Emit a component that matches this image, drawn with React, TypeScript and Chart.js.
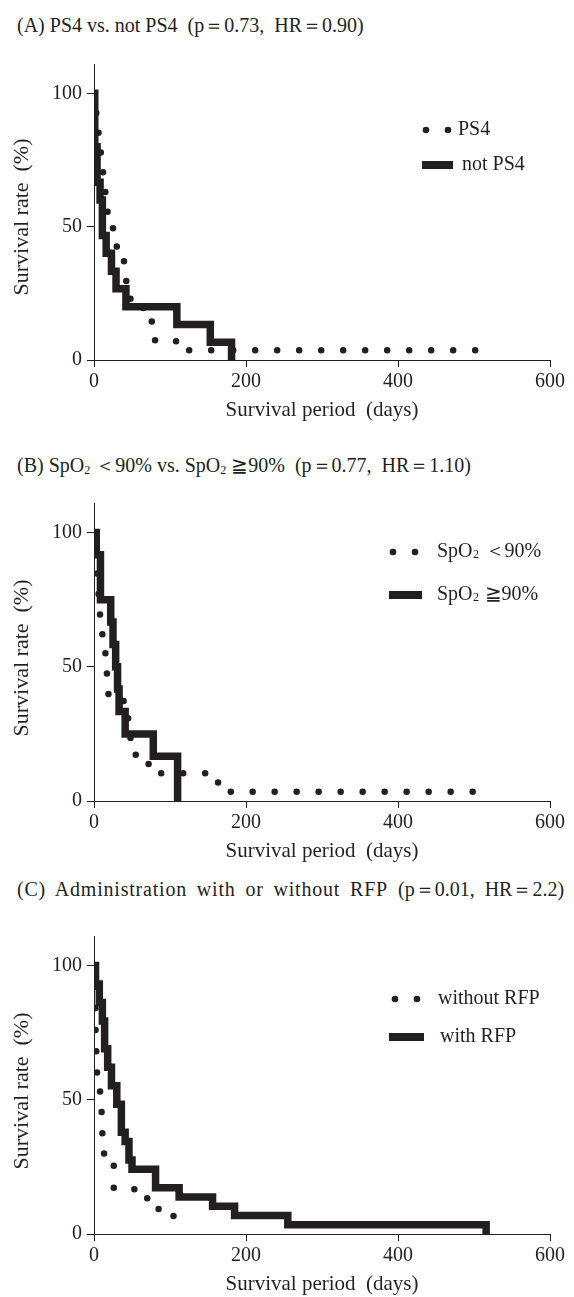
import React, { useEffect, useRef } from "react";
import { Chart, registerables } from "chart.js";

Chart.register(...registerables);

const INK = "#231f20";
const SERIF = '"Liberation Serif", "Times New Roman", serif';

// Tick labels
const xTickValues = [0, 200, 400, 600];
const yTickValues = [0, 50, 100];

// Axis titles
const xAxisTitle = "Survival period  (days)";
const yAxisTitle = "Survival rate  (%)";

// (A) PS4 vs. not PS4
const aPs4Days = [0, 1, 4, 7, 10, 13, 16, 25, 30, 35, 42, 48, 65, 76, 108, 513];
const aPs4Surv = [100, 92.6, 85.2, 77.8, 70.4, 63.0, 55.6, 48.1, 40.7, 37.0, 29.6, 22.2, 18.5, 7.4, 3.7, 0];
const aNotDays = [0, 1, 4, 8, 11, 16, 23, 29, 42, 109, 153, 181];
const aNotSurv = [100, 80, 66.7, 60, 46.7, 40, 33.3, 26.7, 20, 13.3, 6.7, 0];

// (B) SpO2 <90% vs. SpO2 >=90%
const bLowDays = [0, 1, 2, 4, 6, 8, 10, 11, 13, 15, 16, 17, 18, 19, 39, 45, 48, 68, 85, 163, 180, 521];
const bLowSurv = [100, 93.1, 86.2, 79.3, 75.9, 69.0, 65.5, 62.1, 55.2, 51.7, 48.3, 44.8, 41.4, 37.9, 31.0, 27.6, 17.2, 13.8, 10.3, 6.9, 3.4, 3.4];
const bHighDays = [0, 3, 8.5, 22, 25, 28.5, 31, 33, 41, 78, 110];
const bHighSurv = [100, 91.7, 75, 66.7, 58.3, 50, 41.7, 33.3, 25, 16.7, 0];

// (C) with / without RFP
const cWithoutDays = [0, 1, 2, 3, 4, 6, 8, 10, 11, 13, 26, 70, 85, 110];
const cWithoutSurv = [100, 86.7, 73.3, 66.7, 60, 53.3, 46.7, 43.3, 36.7, 30, 16.7, 13.3, 6.7, 6.7];
const cWithDays = [0, 2, 7, 11, 14, 18, 23, 30, 36, 41, 46, 50, 81, 112, 156, 185, 255, 516];
const cWithSurv = [100, 93.1, 86.2, 79.3, 69.0, 62.1, 55.2, 48.3, 37.9, 34.5, 27.6, 24.1, 17.2, 13.8, 10.3, 6.9, 3.4, 0];

const Y_MAX = 111;
const X_TITLE_BOX = 63;

const toPoints = (days: number[], surv: number[]) => days.map((d, i) => ({ x: d, y: surv[i] }));

const dottedSet = (label: string, days: number[], surv: number[]) => ({
  label,
  data: toPoints(days, surv),
  stepped: true,
  borderColor: INK,
  backgroundColor: INK,
  borderWidth: 6.5,
  borderCapStyle: "round" as const,
  borderDash: [0, 22],
  pointRadius: 0,
  fill: false,
});

const solidSet = (label: string, days: number[], surv: number[]) => ({
  label,
  data: toPoints(days, surv),
  stepped: true,
  borderColor: INK,
  backgroundColor: INK,
  borderWidth: 7.5,
  borderCapStyle: "butt" as const,
  borderJoinStyle: "miter" as const,
  pointRadius: 0,
  fill: false,
});

const drawRichText = (ctx: CanvasRenderingContext2D, text: string, x: number, y: number) => {
  const parts = text.split("₂");
  let cx = x;
  parts.forEach((p, i) => {
    ctx.font = `20px ${SERIF}`;
    ctx.fillText(p, cx, y);
    cx += ctx.measureText(p).width;
    if (i < parts.length - 1) {
      ctx.font = `12px ${SERIF}`;
      ctx.fillText("2", cx + 0.5, y + 3);
      cx += ctx.measureText("2").width + 1;
    }
  });
};

const kmLegend = {
  id: "kmLegend",
  afterDraw(chart: any, _args: any, opts: any) {
    const { ctx, chartArea } = chart;
    const items = (opts && opts.items) || [];
    ctx.save();
    ctx.fillStyle = INK;
    ctx.textBaseline = "middle";
    ctx.textAlign = "left";
    items.forEach((it: any) => {
      const y = chartArea.top + it.y;
      const label = chart.data.datasets[it.dataset].label;
      if (it.kind === "dots") {
        [it.x, it.x + 22].forEach((dx: number) => {
          ctx.beginPath();
          ctx.arc(chartArea.left + dx, y, 3.3, 0, Math.PI * 2);
          ctx.fill();
        });
      } else {
        ctx.fillRect(chartArea.left + it.x, y - 4, it.w, 8);
      }
      drawRichText(ctx, label, chartArea.left + it.textX, y);
    });
    // y-axis title, centred a little below the middle of the axis
    ctx.translate(22, chartArea.bottom - 143);
    ctx.rotate(-Math.PI / 2);
    ctx.textAlign = "center";
    ctx.font = `22px ${SERIF}`;
    ctx.fillText(yAxisTitle, 0, 0);
    ctx.restore();
  },
};

function Panel({ top, padTop, axisY, datasets, legendItems }: any) {
  const ref = useRef<HTMLCanvasElement | null>(null);
  const height = Math.round(axisY + X_TITLE_BOX - top);

  useEffect(() => {
    if (!ref.current) return;
    const chart = new Chart(ref.current, {
      type: "line",
      data: { datasets },
      plugins: [kmLegend],
      options: {
        responsive: false,
        animation: false,
        devicePixelRatio: 1,
        layout: { padding: { left: 8, right: 24, top: padTop, bottom: 0 } },
        plugins: {
          legend: { display: false },
          tooltip: { enabled: false },
          kmLegend: { items: legendItems },
        },
        scales: {
          x: {
            type: "linear",
            min: 0,
            max: 600,
            afterBuildTicks: (s: any) => {
              s.ticks = xTickValues.map((v) => ({ value: v }));
            },
            afterFit: (s: any) => {
              s.height = X_TITLE_BOX;
            },
            grid: { display: true, drawOnChartArea: false, drawTicks: true, tickLength: 7, color: INK, lineWidth: 1 },
            border: { display: true, color: INK, width: 1 },
            ticks: { color: INK, font: { family: SERIF, size: 20 }, padding: 3, maxRotation: 0, autoSkip: false },
            title: {
              display: true,
              text: xAxisTitle,
              color: INK,
              font: { family: SERIF, size: 21 },
              padding: { top: 0, bottom: 0 },
            },
          },
          y: {
            type: "linear",
            min: 0,
            max: Y_MAX,
            afterBuildTicks: (s: any) => {
              s.ticks = yTickValues.map((v) => ({ value: v }));
            },
            afterFit: (s: any) => {
              s.width = 86;
            },
            grid: { display: true, drawOnChartArea: false, drawTicks: true, tickLength: 7, color: INK, lineWidth: 1 },
            border: { display: true, color: INK, width: 1 },
            ticks: { color: INK, font: { family: SERIF, size: 20 }, padding: 5, autoSkip: false },
            title: { display: false },
          },
        },
      } as any,
    });
    return () => chart.destroy();
  }, []);

  return (
    <canvas
      ref={ref}
      width={574}
      height={height}
      style={{ position: "absolute", left: 0, top, width: 574, height }}
    />
  );
}

const titleStyle = (top: number): React.CSSProperties => ({
  position: "absolute",
  left: 17,
  top,
  font: `20px ${SERIF}`,
  lineHeight: "24px",
  whiteSpace: "pre",
  color: INK,
});

const Sub2 = () => <span style={{ fontSize: "12px", position: "relative", top: "2px" }}>2</span>;

export default function App() {
  const panels = [
    {
      axisY: 360,
      pxPerPct: 2.727,
      datasets: [dottedSet("PS4", aPs4Days, aPs4Surv), solidSet("not PS4", aNotDays, aNotSurv)],
      legendItems: [
        { dataset: 0, kind: "dots", x: 332, y: 66, textX: 364 },
        { dataset: 1, kind: "bar", x: 328, w: 31, y: 101, textX: 368 },
      ],
    },
    {
      axisY: 801,
      pxPerPct: 2.745,
      datasets: [dottedSet("SpO₂ ＜90%", bLowDays, bLowSurv), solidSet("SpO₂ ≧90%", bHighDays, bHighSurv)],
      legendItems: [
        { dataset: 0, kind: "dots", x: 299, y: 49, textX: 343 },
        { dataset: 1, kind: "bar", x: 295, w: 33, y: 92, textX: 343 },
      ],
    },
    {
      axisY: 1234,
      pxPerPct: 2.75,
      datasets: [dottedSet("without RFP", cWithoutDays, cWithoutSurv), solidSet("with RFP", cWithDays, cWithSurv)],
      legendItems: [
        { dataset: 0, kind: "dots", x: 301, y: 63, textX: 344 },
        { dataset: 1, kind: "bar", x: 295, w: 35, y: 101, textX: 346 },
      ],
    },
  ];

  return (
    <div style={{ position: "absolute", left: 0, top: 0, width: 574, height: 1297, overflow: "hidden", background: "#fff" }}>
      <div style={titleStyle(13)}>{"(A) PS4 vs. not PS4  (p＝0.73,  HR＝0.90)"}</div>
      <div style={titleStyle(453)}>
        {"(B) SpO"}
        <Sub2 />
        {" ＜90% vs. SpO"}
        <Sub2 />
        {" ≧90%  (p＝0.77,  HR＝1.10)"}
      </div>
      <div style={titleStyle(877)}>
        <span style={{ letterSpacing: "0.8px", wordSpacing: "4px" }}>{"(C) Administration with or without RFP"}</span>
        {"  (p＝0.01,  HR＝2.2)"}
      </div>
      {panels.map((p, i) => {
        const chartTop = p.axisY - Y_MAX * p.pxPerPct;
        const top = Math.round(chartTop) - 10;
        return (
          <Panel key={i} top={top} padTop={chartTop - top} axisY={p.axisY} datasets={p.datasets} legendItems={p.legendItems} />
        );
      })}
    </div>
  );
}
